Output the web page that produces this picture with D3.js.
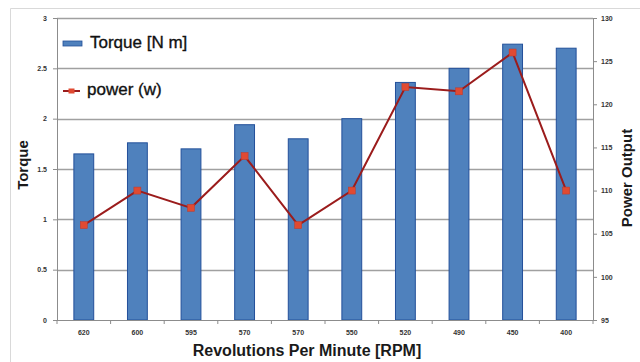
<!DOCTYPE html>
<html><head><meta charset="utf-8">
<script src="https://cdn.jsdelivr.net/npm/d3@7"></script>
<style>
body{margin:0;background:#fff;}
svg{display:block;font-family:"Liberation Sans",Arial,sans-serif;}
</style></head>
<body>
<svg id="c" width="640" height="362"></svg>
<script>
const rpm = ["620","600","595","570","570","550","520","490","450","400"];
const torque = [1.65,1.76,1.70,1.94,1.80,2.00,2.36,2.50,2.74,2.70];
const power = [106,110,108,114,106,110,122,121.5,126,110];
const torqueTicks = [0,0.5,1,1.5,2,2.5,3];
const powerTicks = [95,100,105,110,115,120,125,130];

const svg = d3.select("#c");
const L=57,R=593,T=18,B=320;
const x = d3.scaleBand().domain(d3.range(rpm.length)).range([L,R]).paddingInner(0.63).paddingOuter(0.315);
const yT = d3.scaleLinear().domain([0,3]).range([B,T]);
const yP = d3.scaleLinear().domain([95,130]).range([B,T]);
const band = (R-L)/rpm.length;

// outer chart border
svg.append("path").attr("d","M10.5,362 V8.5 H640").attr("fill","none").attr("stroke","#d9d9d9");

// gridlines
svg.append("g").selectAll("line").data(torqueTicks.slice(1)).join("line")
  .attr("x1",L).attr("x2",R).attr("y1",d=>Math.round(yT(d))+0.5).attr("y2",d=>Math.round(yT(d))+0.5)
  .attr("stroke","#a0a0a0").attr("stroke-width",1.3);

// bars
svg.append("g").selectAll("rect").data(torque).join("rect")
  .attr("x",(d,i)=>x(i)).attr("width",x.bandwidth())
  .attr("y",d=>yT(d)).attr("height",d=>B-yT(d))
  .attr("fill","#4f81bd").attr("stroke","#23509a").attr("stroke-width",1);

// left axis
const gl = svg.append("g").attr("transform",`translate(${L},0)`)
  .call(d3.axisLeft(yT).tickValues(torqueTicks).tickSize(4).tickFormat(d3.format("")));
gl.select(".domain").attr("stroke","#8c8c8c");
gl.selectAll(".tick line").attr("stroke","#8c8c8c");
gl.selectAll("text").attr("font-size",7).attr("font-weight","bold").attr("fill","#333").attr("x",-10);

// right axis
const gr = svg.append("g").attr("transform",`translate(${R},0)`)
  .call(d3.axisRight(yP).tickValues(powerTicks).tickSize(4));
gr.select(".domain").attr("stroke","#8c8c8c");
gr.selectAll(".tick line").attr("stroke","#8c8c8c");
gr.selectAll("text").attr("font-size",7).attr("font-weight","bold").attr("fill","#333").attr("x",8);

// x axis
svg.append("line").attr("x1",L-4).attr("x2",R).attr("y1",B+0.5).attr("y2",B+0.5).attr("stroke","#8c8c8c");
svg.append("g").selectAll("line").data(d3.range(rpm.length+1)).join("line")
  .attr("x1",d=>L+d*band).attr("x2",d=>L+d*band).attr("y1",B).attr("y2",B+4).attr("stroke","#8c8c8c");
svg.append("g").selectAll("text").data(rpm).join("text")
  .attr("x",(d,i)=>x(i)+x.bandwidth()/2).attr("y",B+15).attr("text-anchor","middle")
  .attr("font-size",7).attr("font-weight","bold").attr("fill","#333").text(d=>d);

// power line
const line = d3.line().x((d,i)=>x(i)+x.bandwidth()/2).y(d=>yP(d));
svg.append("path").datum(power).attr("d",line).attr("fill","none").attr("stroke","#9b1c1c").attr("stroke-width",2);
svg.append("g").selectAll("rect").data(power).join("rect")
  .attr("x",(d,i)=>x(i)+x.bandwidth()/2-3.5).attr("y",d=>yP(d)-3.5).attr("width",7).attr("height",7)
  .attr("fill","#e04a32").attr("stroke","#c0392b").attr("stroke-width",0.5);

// legend
svg.append("rect").attr("x",63).attr("y",41).attr("width",19).attr("height",5).attr("fill","#4f81bd").attr("stroke","#23509a").attr("stroke-width",0.8);
svg.append("text").attr("x",90).attr("y",48).attr("font-size",17).attr("fill","#111").attr("stroke","#111").attr("stroke-width",0.35).text("Torque [N m]");
svg.append("line").attr("x1",63).attr("x2",80).attr("y1",91).attr("y2",91).attr("stroke","#9b1c1c").attr("stroke-width",2);
svg.append("rect").attr("x",68.5).attr("y",88.5).attr("width",6).attr("height",5).attr("fill","#e04a32");
svg.append("text").attr("x",87).attr("y",95).attr("font-size",17).attr("fill","#111").attr("stroke","#111").attr("stroke-width",0.35).text("power (w)");

// axis titles
svg.append("text").attr("x",307).attr("y",356).attr("text-anchor","middle").attr("font-size",16).attr("font-weight","bold").attr("fill","#1a1a1a").text("Revolutions Per Minute [RPM]");
svg.append("text").attr("transform","translate(28,165) rotate(-90)").attr("text-anchor","middle").attr("font-size",15).attr("font-weight","bold").attr("fill","#1a1a1a").text("Torque");
svg.append("text").attr("transform","translate(632,178) rotate(-90)").attr("text-anchor","middle").attr("font-size",15).attr("font-weight","bold").attr("fill","#1a1a1a").text("Power Output");
</script>
</body></html>
